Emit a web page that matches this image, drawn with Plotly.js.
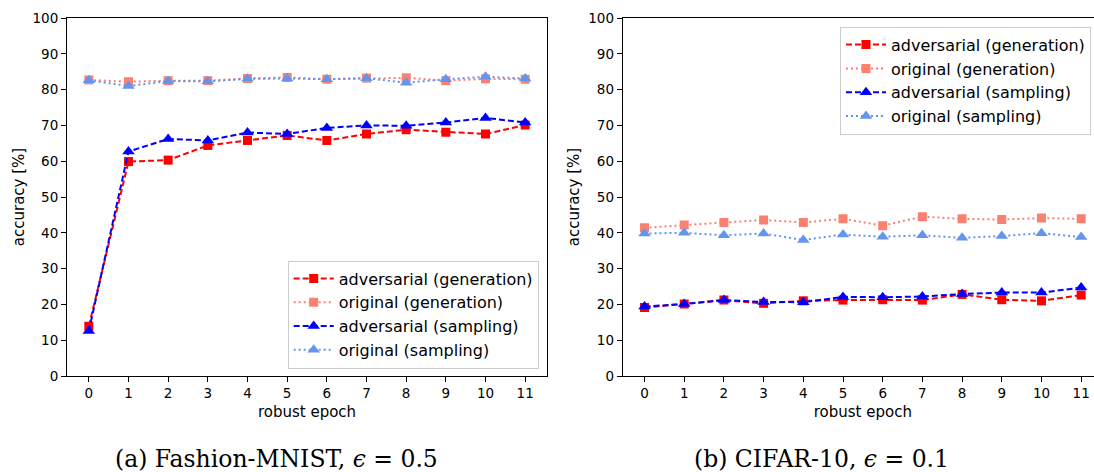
<!DOCTYPE html>
<html>
<head>
<meta charset="utf-8">
<script src="https://cdn.plot.ly/plotly-3.0.1.min.js"></script>
<style>html,body{margin:0;padding:0;overflow:hidden;background:#fff;width:1094px;height:472px}</style>
</head>
<body>
<div id="chart"></div>
<script>
const epochs = [0,1,2,3,4,5,6,7,8,9,10,11];
const seriesNames = ["adversarial (generation)","original (generation)","adversarial (sampling)","original (sampling)"];

// (a) Fashion-MNIST
const fmAdvGen  = [13.9,59.9,60.3,64.4,65.8,67.2,65.8,67.6,68.8,68.1,67.6,70.1];
const fmOrigGen = [82.7,82.2,82.5,82.5,83.1,83.4,82.9,83.2,83.3,82.5,83.0,82.9];
const fmAdvSamp = [12.6,62.7,66.2,65.8,68.0,67.6,69.3,70.0,69.9,70.8,72.1,70.8];
const fmOrigSamp= [82.6,81.0,82.4,82.3,83.0,83.1,82.9,83.2,81.9,82.9,83.6,83.1];

// (b) CIFAR-10
const cfAdvGen  = [19.1,20.1,21.2,20.3,21.0,21.2,21.3,21.2,22.8,21.3,21.0,22.6];
const cfOrigGen = [41.4,42.2,42.9,43.6,42.9,43.9,42.0,44.5,43.9,43.7,44.1,43.9];
const cfAdvSamp = [19.4,20.1,21.2,20.7,20.6,22.1,22.0,22.2,22.9,23.3,23.3,24.7];
const cfOrigSamp= [39.8,40.0,39.3,39.8,38.0,39.5,38.9,39.3,38.6,39.1,39.9,38.8];

const yTicks = [0,10,20,30,40,50,60,70,80,90,100];
const captions = ["(a) Fashion-MNIST, <i>ϵ</i> = 0.5", "(b) CIFAR-10, <i>ϵ</i> = 0.1"];

const styles = [
  {color:'#ff0000', dash:'6px,3px', symbol:'square', size:9},
  {color:'#fa8072', dash:'2px,3px', symbol:'square', size:9},
  {color:'#0000ff', dash:'6px,3px', symbol:'triangle-up', size:11},
  {color:'#6495ed', dash:'2px,3px', symbol:'triangle-up', size:11}
];

function mk(ys, i, xa, ya, leg) {
  const s = styles[i];
  return {
    x: epochs, y: ys, name: seriesNames[i], type:'scatter', mode:'lines+markers',
    xaxis: xa, yaxis: ya, legend: leg,
    line:{color:s.color, width:2, dash:s.dash},
    marker:{color:s.color, symbol:s.symbol, size:s.size, line:{width:0}}
  };
}

const data = [
  mk(fmAdvGen,0,'x','y','legend'), mk(fmOrigGen,1,'x','y','legend'),
  mk(fmAdvSamp,2,'x','y','legend'), mk(fmOrigSamp,3,'x','y','legend'),
  mk(cfAdvGen,0,'x2','y2','legend2'), mk(cfOrigGen,1,'x2','y2','legend2'),
  mk(cfAdvSamp,2,'x2','y2','legend2'), mk(cfOrigSamp,3,'x2','y2','legend2')
];

const W = 1103, L = 67, T = 18, B = 96;
const PW = W - L;
const tickFont = {family:'DejaVu Sans', size:13.5, color:'#000'};
const titleFont = {family:'DejaVu Sans', size:15, color:'#000'};

function xax(domain, anchor) {
  return {
    domain: domain, anchor: anchor, range:[-0.55,11.55],
    tickvals: epochs, ticktext: epochs.map(String),
    ticks:'outside', ticklen:5, tickwidth:1, tickcolor:'#000',
    showline:true, mirror:true, linecolor:'#000', linewidth:1,
    showgrid:false, zeroline:false, tickfont:tickFont,
    title:{text:'robust epoch', font:titleFont, standoff:6}
  };
}
function yax(anchor) {
  return {
    domain:[0,1], anchor: anchor, range:[0,100],
    tickvals: yTicks, ticktext: yTicks.map(String),
    ticks:'outside', ticklen:5, tickwidth:1, tickcolor:'#000',
    showline:true, mirror:true, linecolor:'#000', linewidth:1,
    showgrid:false, zeroline:false, tickfont:tickFont,
    title:{text:'accuracy [%]', font:titleFont, standoff:4}
  };
}

const legCommon = {
  bgcolor:'rgba(255,255,255,0.85)', bordercolor:'#cccccc', borderwidth:1,
  font:{family:'DejaVu Sans', size:16, color:'#000'},
  traceorder:'normal', itemwidth:40
};

const capFont = {family:'DejaVu Serif', size:23.5, color:'#000'};

const layout = {
  width: W, height: 472,
  margin:{l:L, r:0, t:T, b:B, pad:0},
  paper_bgcolor:'#fff', plot_bgcolor:'#fff',
  showlegend:true,
  xaxis: xax([0, 480/PW], 'y'),
  yaxis: yax('x'),
  xaxis2: xax([(622.7-L)/PW, 1], 'y2'),
  yaxis2: yax('x2'),
  legend: Object.assign({x:(538.7-L)/PW, xanchor:'right', y:(376-368.5)/358, yanchor:'bottom'}, legCommon),
  legend2: Object.assign({x:(1091-L)/PW, xanchor:'right', y:(376-26.7)/358, yanchor:'top'}, legCommon),
  annotations: [
    {text:captions[0], xref:'paper', yref:'paper', x:(276.5-L)/PW, y:(376-459)/358, xanchor:'center', yanchor:'middle', showarrow:false, font:capFont},
    {text:captions[1], xref:'paper', yref:'paper', x:(821.5-L)/PW, y:(376-459)/358, xanchor:'center', yanchor:'middle', showarrow:false, font:capFont}
  ]
};

Plotly.newPlot('chart', data, layout, {staticPlot:true, displayModeBar:false});
</script>
</body>
</html>
